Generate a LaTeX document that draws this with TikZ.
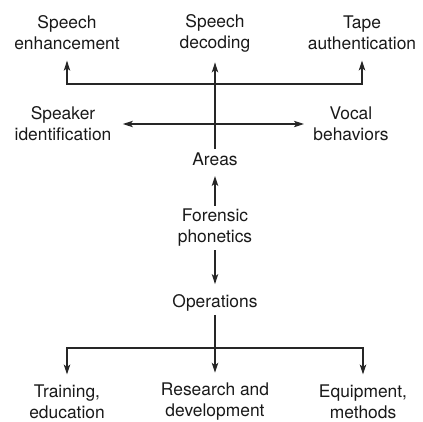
\documentclass[tikz,border=0pt]{standalone}
\usepackage{fontspec}
\setmainfont{TeX Gyre Heros}
\usetikzlibrary{arrows.meta, positioning}

\begin{document}
\begin{tikzpicture}[x=1pt, y=1pt, >={Stealth[length=10pt, width=6.5pt, inset=2.5pt]},
  line width=1.1pt, color=black!85,
  lbl/.style={align=center, font=\fontsize{17.4}{21}\selectfont, inner sep=3pt, text=black!90},
  arr/.style={->, shorten >=7pt}]
\useasboundingbox (0,0) rectangle (423,-421);
% areas of the field
\node[lbl] (enh)  at (67,-33)   {Speech\\enhancement};
\node[lbl] (dec)  at (215,-33)  {Speech\\decoding};
\node[lbl] (tape) at (362,-33)  {Tape\\authentication};
\node[lbl] (spk)  at (63,-124)  {Speaker\\identification};
\node[lbl] (voc)  at (351,-124) {Vocal\\behaviors};
\node[lbl] (areas) at (215,-159) {Areas};
% root
\node[lbl] (fp)   at (215,-228) {Forensic\\phonetics};
% operations
\node[lbl] (ops)  at (215,-303) {Operations};
\node[lbl] (trn)  at (67,-402)  {Training,\\education};
\node[lbl] (rnd)  at (215,-402) {Research and\\development};
\node[lbl] (eqp)  at (363,-402) {Equipment,\\methods};
\coordinate (jtop) at (215,-84);
\coordinate (jbot) at (215,-348);
\draw[arr] (areas) -- (dec);
\draw[arr] (jtop) -| (enh);
\draw[arr] (jtop) -| (tape);
\draw[<->, shorten <=8pt, shorten >=6pt] (spk.east) -- (voc.west);
\draw[arr] (fp) -- (areas);
\draw[arr] (fp) -- (ops);
\draw (ops) -- (jbot);
\draw[arr] (jbot) -| (trn);
\draw[arr] (jbot) -- (rnd);
\draw[arr] (jbot) -| (eqp);
\end{tikzpicture}
\end{document}
